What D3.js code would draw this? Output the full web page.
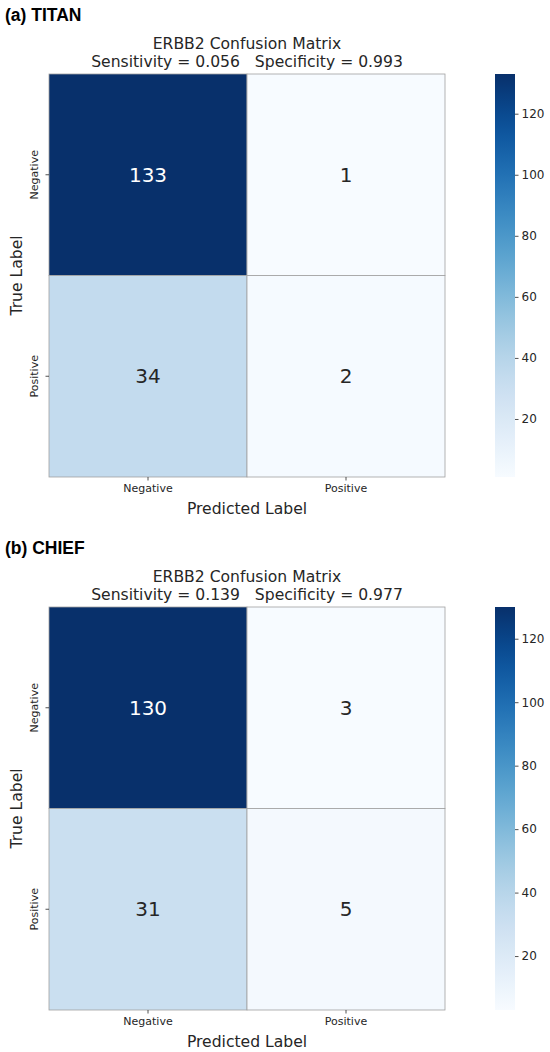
<!DOCTYPE html>
<html>
<head>
<meta charset="utf-8">
<script src="https://cdn.jsdelivr.net/npm/d3@7"></script>
<style>
  body { margin: 0; background: #fff; }
  svg text { font-family: "DejaVu Sans", sans-serif; fill: #262626; }
</style>
</head>
<body>
<script>
// data
const classes = ["Negative", "Positive"];
const panelLabels = ["(a) TITAN", "(b) CHIEF"];
const titanValues = [[133, 1], [34, 2]];
const chiefValues = [[130, 3], [31, 5]];
const sensitivity = [0.056, 0.139];
const specificity = [0.993, 0.977];
const colorbarTicks = [20, 40, 60, 80, 100, 120];

const width = 550;
const height = 1052;
const panelHeight = 533;

const svg = d3.select("body").append("svg")
    .attr("width", width)
    .attr("height", height);

const defs = svg.append("defs");

function drawPanel(index, values) {
    const g = svg.append("g").attr("transform", `translate(0,${index * panelHeight})`);
    const heat = { left: 49, right: 445, top: 74, bottom: 477 };
    const cbar = { left: 495, right: 515 };

    const flat = values.flat();
    const vmin = d3.min(flat), vmax = d3.max(flat);
    const color = d3.scaleSequential(d3.interpolateBlues).domain([vmin, vmax]);

    const x = d3.scaleBand().domain(classes).range([heat.left, heat.right]);
    const y = d3.scaleBand().domain(classes).range([heat.top, heat.bottom]);

    // panel label
    g.append("text")
        .attr("x", 5).attr("y", 21)
        .style("font-family", "'Liberation Sans', Arial, sans-serif")
        .style("font-weight", "bold")
        .style("font-size", "17.5px")
        .style("fill", "#000")
        .text(panelLabels[index]);

    // title
    const cx = (heat.left + heat.right) / 2;
    g.append("text")
        .attr("x", cx).attr("y", 49)
        .attr("text-anchor", "middle")
        .style("font-size", "15.6px")
        .text("ERBB2 Confusion Matrix");
    g.append("text")
        .attr("x", cx).attr("y", 67)
        .attr("text-anchor", "middle")
        .style("font-size", "15.6px")
        .style("white-space", "pre")
        .text(`Sensitivity = ${sensitivity[index].toFixed(3)}   Specificity = ${specificity[index].toFixed(3)}`);

    // cells
    const cells = [];
    values.forEach((row, i) => row.forEach((v, j) => cells.push({ t: classes[i], p: classes[j], v })));

    g.selectAll("rect.cell").data(cells).join("rect")
        .attr("class", "cell")
        .attr("x", d => x(d.p))
        .attr("y", d => y(d.t))
        .attr("width", x.bandwidth())
        .attr("height", y.bandwidth())
        .attr("fill", d => color(d.v))
        .attr("stroke", "#a0a0a0")
        .attr("stroke-width", 0.8);

    g.selectAll("text.annot").data(cells).join("text")
        .attr("class", "annot")
        .attr("x", d => x(d.p) + x.bandwidth() / 2)
        .attr("y", d => y(d.t) + y.bandwidth() / 2)
        .attr("text-anchor", "middle")
        .attr("dominant-baseline", "central")
        .style("font-size", "20px")
        .style("fill", d => d3.lab(color(d.v)).l < 55 ? "#ffffff" : "#262626")
        .text(d => d.v);

    // axes
    const xAxis = g.append("g")
        .attr("transform", `translate(0,${heat.bottom})`)
        .call(d3.axisBottom(x).tickSize(3.5).tickPadding(4));
    const yAxis = g.append("g")
        .attr("transform", `translate(${heat.left},0)`)
        .call(d3.axisLeft(y).tickSize(3.5).tickPadding(4));
    [xAxis, yAxis].forEach(a => {
        a.select(".domain").remove();
        a.selectAll(".tick line").attr("stroke", "#262626").attr("stroke-width", 0.8);
        a.selectAll(".tick text").style("font-size", "11px").attr("fill", "#262626");
    });
    yAxis.selectAll(".tick text")
        .attr("x", 0).attr("dy", 0)
        .attr("text-anchor", "middle")
        .attr("transform", "translate(-11,0) rotate(-90)");

    g.append("text")
        .attr("x", cx).attr("y", 514)
        .attr("text-anchor", "middle")
        .style("font-size", "15.6px")
        .text("Predicted Label");
    g.append("text")
        .attr("transform", `translate(22,${(heat.top + heat.bottom) / 2}) rotate(-90)`)
        .attr("text-anchor", "middle")
        .style("font-size", "15.6px")
        .text("True Label");

    // colorbar
    const gradId = `blues-${index}`;
    const grad = defs.append("linearGradient")
        .attr("id", gradId)
        .attr("x1", 0).attr("y1", 1).attr("x2", 0).attr("y2", 0);
    grad.selectAll("stop").data(d3.range(0, 1.0001, 0.05)).join("stop")
        .attr("offset", d => d)
        .attr("stop-color", d => d3.interpolateBlues(d));

    g.append("rect")
        .attr("x", cbar.left).attr("y", heat.top)
        .attr("width", cbar.right - cbar.left)
        .attr("height", heat.bottom - heat.top)
        .attr("fill", `url(#${gradId})`);

    const cscale = d3.scaleLinear().domain([vmin, vmax]).range([heat.bottom, heat.top]);
    const cAxis = g.append("g")
        .attr("transform", `translate(${cbar.right},0)`)
        .call(d3.axisRight(cscale).tickValues(colorbarTicks).tickSize(3.5).tickPadding(3));
    cAxis.select(".domain").remove();
    cAxis.selectAll(".tick line").attr("stroke", "#262626").attr("stroke-width", 0.8);
    cAxis.selectAll(".tick text").style("font-size", "12px").attr("fill", "#262626");
}

drawPanel(0, titanValues);
drawPanel(1, chiefValues);
</script>
</body>
</html>
